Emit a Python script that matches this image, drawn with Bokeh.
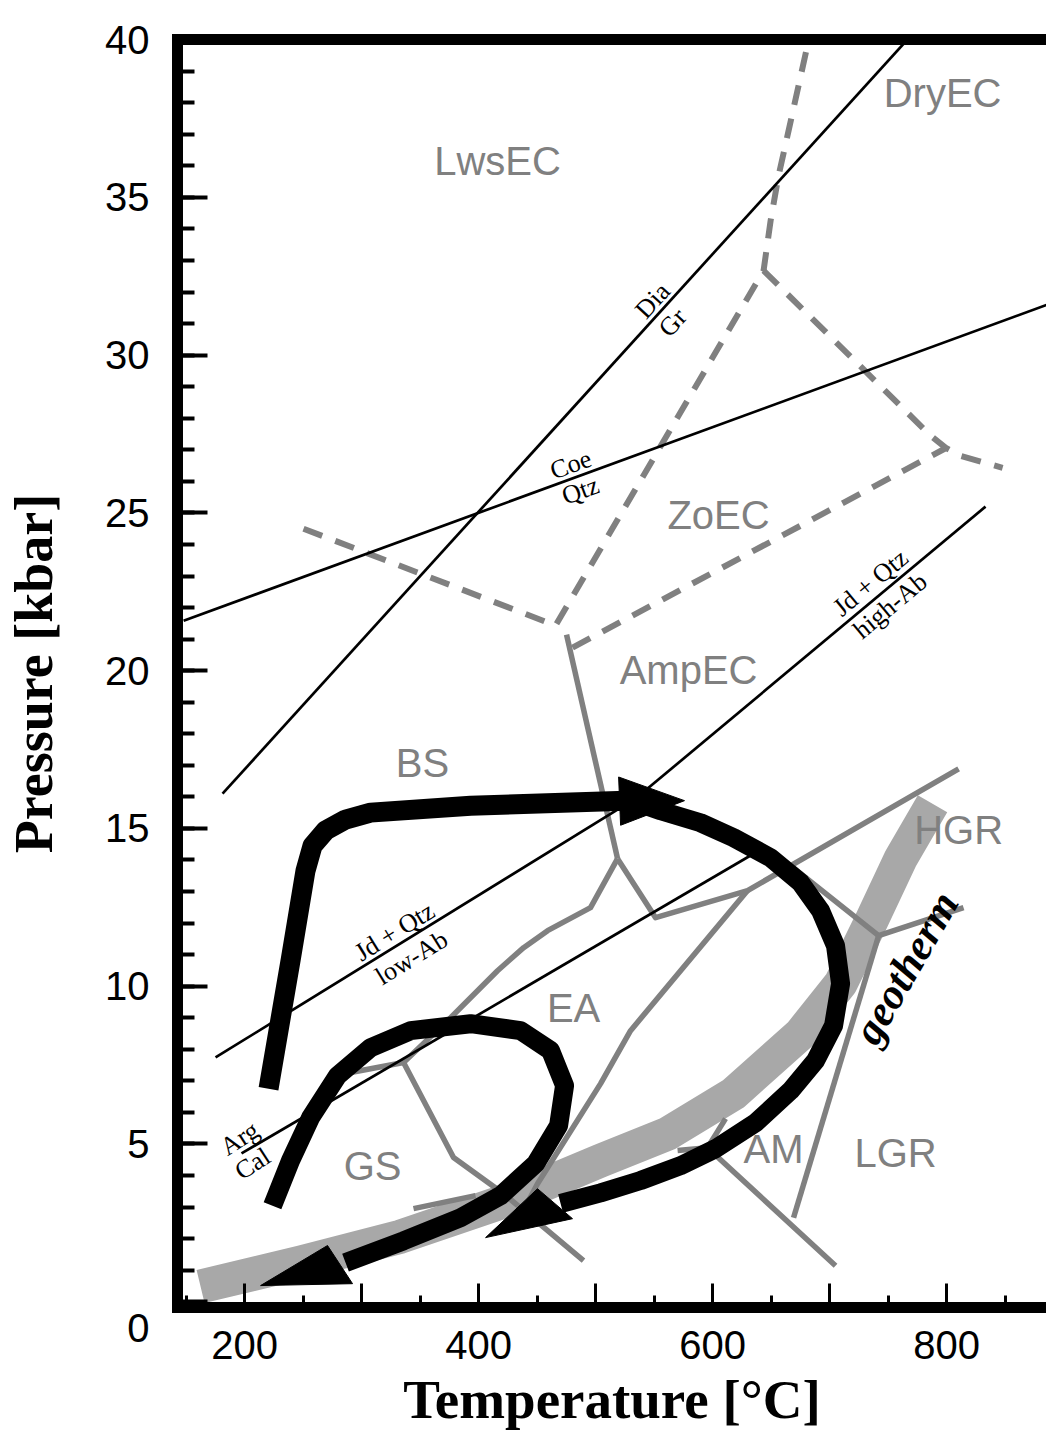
import math
from bokeh.plotting import figure
from bokeh.models import Range1d, FixedTicker, LinearAxis
from bokeh.core.properties import value
from bokeh.embed import file_html
from bokeh.resources import INLINE

GRAY = "#808080"
BAND = "#a8a8a8"

# ---------------- axes ----------------
x_major = [200, 300, 400, 500, 600, 700, 800]
x_minor = [150, 250, 350, 450, 550, 650, 750, 850]
x_hidden = [300, 500, 700]
y_major = [0, 5, 10, 15, 20, 25, 30, 35, 40]
y_minor = list(range(1, 40))

# ---------------- black reaction lines (T degC, P kbar) ----------------
dia_gr_T = [181.2, 778.7]
dia_gr_P = [16.1, 40.5]
coe_qtz_T = [147.9, 900.0]
coe_qtz_P = [21.58, 31.79]
jd_low_T = [175.2, 535.0]
jd_low_P = [7.74, 15.97]
jd_high_T = [535.0, 833.3]
jd_high_P = [15.97, 25.20]
arg_cal_T = [197.4, 645.3]
arg_cal_P = [4.70, 14.42]

# ---------------- grey dashed facies boundaries ----------------
dash_a_T = [250.4, 465.8, 643.6, 649.6, 656.4, 665.0, 684.0]
dash_a_P = [24.50, 21.43, 32.68, 34.26, 35.69, 37.12, 40.3]
dash_b_T = [643.6, 786.3, 799.1, 812.0, 847.9]
dash_b_P = [32.68, 27.45, 27.07, 26.81, 26.43]
dash_c_T = [480.3, 799.1]
dash_c_P = [20.73, 27.05]

# ---------------- grey solid facies boundaries ----------------
g1_T = [475.2, 518.8]
g1_P = [21.14, 14.04]
g2_T = [518.8, 495.7, 459.0, 438.5, 416.2, 376.1, 335.9, 286.3]
g2_P = [14.04, 12.49, 11.76, 11.22, 10.49, 9.00, 7.58, 7.23]
g2b_T = [335.9, 378.6, 421.4, 489.7]
g2b_P = [7.58, 4.57, 3.42, 1.30]
g3_T = [518.8, 551.3, 629.9, 810.3]
g3_P = [14.04, 12.17, 13.03, 16.89]
g4_T = [629.9, 529.9, 504.3, 450.4, 442.7]
g4_P = [13.03, 8.59, 6.91, 3.74, 3.20]
g5_T = [666.7, 741.9, 814.5]
g5_P = [13.82, 11.60, 12.49]
g6_T = [741.9, 669.2]
g6_P = [11.60, 2.66]
g7_T = [570.1, 595.7, 705.1]
g7_P = [4.79, 4.88, 1.14]
g7b_T = [595.7, 611.1]
g7b_P = [4.88, 5.80]
g8_T = [344.4, 397.4]
g8_P = [2.95, 3.36]

# ---------------- geotherm band ----------------
geo_T = [162.4, 247.9, 333.3, 418.8, 504.3, 561.5, 617.9, 675.2, 709.4, 735.9, 760.7, 788.0]
geo_P = [0.48, 1.24, 2.06, 3.14, 4.47, 5.32, 6.59, 8.49, 10.08, 12.08, 14.04, 15.78]

# ---------------- P-T paths (arrows) ----------------
path1_T = [220.5, 239.3, 252.1, 258.1, 269.2, 286.3, 307.7, 393.2, 478.6, 525.6]
path1_P = [6.75, 10.81, 13.66, 14.45, 14.93, 15.28, 15.50, 15.72, 15.82, 15.88]
head1_T = [519.7, 576.0, 521.4]
head1_P = [16.63, 15.88, 15.10]
path2_T = [538.5, 555.6, 589.7, 617.9, 649.6, 675.2, 692.3, 705.1, 709.4, 703.4,
           688.0, 666.7, 636.8, 602.6, 572.6, 538.5, 504.3, 470.1]
path2_P = [15.78, 15.56, 15.18, 14.71, 14.07, 13.28, 12.39, 11.28, 10.08, 8.75,
           7.64, 6.69, 5.67, 4.85, 4.31, 3.84, 3.45, 3.11]
head2_T = [450.4, 406.0, 480.3]
head2_P = [3.58, 2.03, 2.63]
path3_T = [223.9, 239.3, 256.4, 279.5, 307.7, 341.9, 393.2, 435.9, 461.5, 473.5,
           468.4, 448.7, 418.8, 384.6, 335.9, 286.3]
path3_P = [3.04, 4.47, 5.83, 7.16, 8.05, 8.59, 8.81, 8.59, 7.96, 6.85,
           5.58, 4.37, 3.36, 2.66, 1.93, 1.24]
head3_T = [270.9, 213.7, 292.3]
head3_P = [1.78, 0.51, 0.57]

# ---------------- facies labels ----------------
fac_names = ["LwsEC", "DryEC", "ZoEC", "AmpEC", "BS", "HGR", "EA", "GS", "AM", "LGR"]
fac_T = [416.2, 796.6, 605.1, 579.5, 352.1, 810.3, 481.2, 309.4, 652.1, 756.4]
fac_P = [36.16, 38.32, 24.94, 20.03, 17.08, 14.96, 9.32, 4.31, 4.85, 4.72]

# ---------------- reaction labels ----------------
rx_text = ["Dia", "Gr", "Coe", "Qtz", "Jd + Qtz", "low-Ab", "Jd + Qtz", "high-Ab", "Arg", "Cal"]
rx_T = [548.7, 565.8, 478.8, 487.0, 328.2, 342.7, 735.0, 751.8, 195.7, 206.8]
rx_P = [31.73, 31.03, 26.53, 25.71, 11.73, 10.90, 22.79, 22.06, 5.17, 4.37]
rx_angle_deg = [47.8, 47.8, 20.1, 20.1, 31.7, 31.7, 39.8, 39.8, 33.0, 33.0]

geo_label_T = [765.0]
geo_label_P = [10.59]
geo_label_angle_deg = [60.0]

# ======================================================================
p = figure(width=1046, height=1440,
           x_range=Range1d(142.7, 885.4), y_range=Range1d(-0.185, 40.005),
           output_backend="svg", toolbar_location=None,
           min_border_left=177, min_border_right=0,
           min_border_top=39, min_border_bottom=133,
           x_axis_label="Temperature [°C]", y_axis_label="Pressure [kbar]")
p.outline_line_color = None
p.grid.visible = False

# x axis
xa = p.xaxis[0]
xa.ticker = FixedTicker(ticks=x_major, minor_ticks=x_minor)
xa.major_label_overrides = {t: "" for t in x_hidden}
xa.axis_line_width = 11
xa.axis_line_cap = "square"
xa.major_tick_in = 24
xa.major_tick_out = 0
xa.minor_tick_in = 12
xa.minor_tick_out = 0
xa.major_tick_line_width = 3
xa.minor_tick_line_width = 3
xa.major_label_text_font = "Liberation Sans"
xa.major_label_text_font_size = "40px"
xa.major_label_text_color = "black"
xa.major_label_standoff = 23
xa.axis_label_text_font = "Liberation Serif"
xa.axis_label_text_font_style = "bold"
xa.axis_label_text_font_size = "55px"
xa.axis_label_text_color = "black"
xa.axis_label_standoff = 7

# y axis ("0" sits lower than its tick in the original)
ya = p.yaxis[0]
ya.ticker = FixedTicker(ticks=y_major, minor_ticks=y_minor)
ya.major_label_overrides = {0: "\n0"}
ya.axis_line_width = 11
ya.axis_line_cap = "square"
ya.major_tick_in = 30
ya.major_tick_out = 0
ya.minor_tick_in = 17
ya.minor_tick_out = 0
ya.major_tick_line_width = 4
ya.minor_tick_line_width = 4
ya.major_label_text_font = "Liberation Sans"
ya.major_label_text_font_size = "40px"
ya.major_label_text_color = "black"
ya.major_label_standoff = 28
ya.axis_label_text_font = "Liberation Serif"
ya.axis_label_text_font_style = "bold"
ya.axis_label_text_font_size = "54px"
ya.axis_label_text_color = "black"
ya.axis_label_standoff = 38

# top frame bar
top = LinearAxis(ticker=FixedTicker(ticks=[]), axis_line_width=11, axis_line_cap="square",
                 major_tick_in=0, major_tick_out=0, minor_tick_in=0, minor_tick_out=0,
                 major_label_text_font_size="0px")
p.add_layout(top, "above")

# geotherm band
p.line(geo_T, geo_P, line_width=34, line_color=BAND, line_cap="butt", line_join="round")

# grey solid lines
for tx, py in [(g1_T, g1_P), (g2_T, g2_P), (g2b_T, g2b_P), (g3_T, g3_P), (g4_T, g4_P),
               (g5_T, g5_P), (g6_T, g6_P), (g7_T, g7_P), (g7b_T, g7b_P), (g8_T, g8_P)]:
    p.line(tx, py, line_width=5.5, line_color=GRAY, line_join="round", line_cap="butt")

# grey dashed lines
for tx, py in [(dash_a_T, dash_a_P), (dash_b_T, dash_b_P), (dash_c_T, dash_c_P)]:
    p.line(tx, py, line_width=6, line_color=GRAY, line_dash="20 14", line_join="round")

# black reaction lines
for tx, py in [(dia_gr_T, dia_gr_P), (coe_qtz_T, coe_qtz_P), (jd_low_T, jd_low_P),
               (jd_high_T, jd_high_P), (arg_cal_T, arg_cal_P)]:
    p.line(tx, py, line_width=2.7, line_color="black")

# P-T paths
p.line(path1_T, path1_P, line_width=20, line_color="black", line_join="round", line_cap="butt")
p.line(path2_T, path2_P, line_width=19, line_color="black", line_join="round", line_cap="butt")
p.line(path3_T, path3_P, line_width=19, line_color="black", line_join="round", line_cap="butt")
for hx, hy in [(head1_T, head1_P), (head2_T, head2_P), (head3_T, head3_P)]:
    p.patch(hx, hy, fill_color="black", line_color="black", line_width=1)

# facies labels
p.text(x=fac_T, y=fac_P, text=fac_names, text_font=value("Liberation Sans"),
       text_font_size=value("40px"), text_color=GRAY, text_align="center",
       text_baseline="middle")

# reaction labels
p.text(x=rx_T, y=rx_P, text=rx_text, angle=[math.radians(a) for a in rx_angle_deg],
       text_font=value("Liberation Serif"), text_font_size=value("26px"),
       text_color="black", text_align="center", text_baseline="middle")

p.text(x=geo_label_T, y=geo_label_P, text=["geotherm"],
       angle=[math.radians(a) for a in geo_label_angle_deg],
       text_font=value("Liberation Serif"), text_font_style="bold italic",
       text_font_size=value("43px"), text_color="black", text_align="center",
       text_baseline="middle")

open("out.html", "w").write(file_html(p, INLINE))
